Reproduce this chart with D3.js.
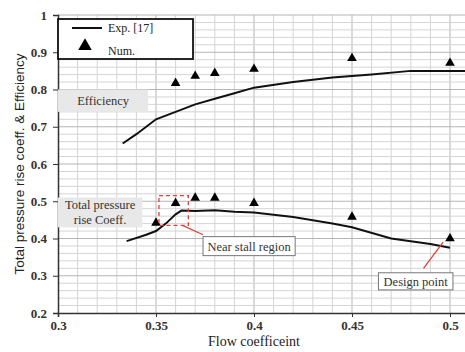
<!DOCTYPE html>
<html>
<head>
<meta charset="utf-8">
<script src="https://cdn.jsdelivr.net/npm/d3@7"></script>
<style>
  body { margin: 0; background: #fff; }
  svg { display: block; }
  .tick text { font-family: "Liberation Serif", "DejaVu Serif", serif; font-size: 13px; font-weight: bold; fill: #333; }
</style>
</head>
<body>
<svg id="chart" width="465" height="352"></svg>
<script>
// experimental curves (Exp. [17])
const effExp = [[0.333, 0.655], [0.34, 0.68], [0.35, 0.72], [0.36, 0.74], [0.37, 0.76], [0.38, 0.775],
  [0.39, 0.79], [0.40, 0.805], [0.42, 0.82], [0.44, 0.832], [0.46, 0.84], [0.48, 0.85], [0.51, 0.85]];
const presExp = [[0.335, 0.393], [0.345, 0.41], [0.35, 0.42], [0.355, 0.44], [0.36, 0.465], [0.363, 0.475],
  [0.37, 0.474], [0.38, 0.476], [0.39, 0.472], [0.40, 0.47], [0.42, 0.458], [0.44, 0.44], [0.45, 0.43],
  [0.47, 0.4], [0.49, 0.385], [0.50, 0.375]];

// numerical results (Num.)
const numFlow = [0.35, 0.36, 0.37, 0.38, 0.40, 0.45, 0.50];
const effNum = [null, 0.817, 0.836, 0.844, 0.855, 0.884, 0.871];
const presNum = [0.442, 0.495, 0.509, 0.509, 0.495, 0.458, 0.40];

const xTicks = [0.3, 0.35, 0.4, 0.45, 0.5];
const yTicks = [0.2, 0.3, 0.4, 0.5, 0.6, 0.7, 0.8, 0.9, 1];

const margin = { top: 15, left: 58, bottom: 39 };
const width = 465, height = 352;

const svg = d3.select('#chart');

const x = d3.scaleLinear().domain([0.3, 0.51]).range([margin.left, margin.left + 0.21 * 1960]);
const y = d3.scaleLinear().domain([0.2, 1]).range([height - margin.bottom, margin.top]);

// grid
const grid = svg.append('g');
d3.range(0.31, 0.515, 0.01).forEach(v => {
  const major = Math.abs(v * 20 - Math.round(v * 20)) < 1e-6;
  grid.append('line')
    .attr('x1', x(v)).attr('x2', x(v))
    .attr('y1', y(0.2)).attr('y2', y(1))
    .attr('stroke', major ? '#b5b5b5' : '#d4d4d4')
    .attr('stroke-width', 1);
});
d3.range(0.22, 1.001, 0.02).forEach(v => {
  const major = Math.abs(v * 10 - Math.round(v * 10)) < 1e-6;
  grid.append('line')
    .attr('x1', x(0.3)).attr('x2', width)
    .attr('y1', y(v)).attr('y2', y(v))
    .attr('stroke', major ? '#b5b5b5' : '#d4d4d4')
    .attr('stroke-width', 1);
});

// axes
svg.append('g')
  .attr('transform', 'translate(0,' + y(0.2) + ')')
  .call(d3.axisBottom(x).tickValues(xTicks).tickSize(4).tickPadding(4).tickFormat(d3.format('')))
  .call(g => g.select('.domain').attr('stroke', '#333').attr('stroke-width', 1.5))
  .call(g => g.selectAll('.tick line').attr('stroke', '#333'));

svg.append('g')
  .attr('transform', 'translate(' + x(0.3) + ',0)')
  .call(d3.axisLeft(y).tickValues(yTicks).tickSize(5).tickPadding(6).tickFormat(d3.format('')))
  .call(g => g.select('.domain').attr('stroke', '#333').attr('stroke-width', 1.5))
  .call(g => g.selectAll('.tick line').attr('stroke', '#333'));

// labels
svg.append('text')
  .attr('x', x(0.4)).attr('y', 346)
  .attr('text-anchor', 'middle')
  .style('font-family', '"Liberation Serif", "DejaVu Serif", serif')
  .style('font-size', '14px')
  .attr('fill', '#222')
  .text('Flow coefficeint');

svg.append('text')
  .attr('transform', 'translate(24,' + y(0.6) + ') rotate(-90)')
  .attr('text-anchor', 'middle')
  .style('font-family', '"Liberation Sans", Arial, sans-serif')
  .style('font-size', '13.5px')
  .attr('fill', '#222')
  .text('Total pressure rise coeff. & Efficiency');

// curves
const line = d3.line().x(d => x(d[0])).y(d => y(d[1]));
[effExp, presExp].forEach(data => {
  svg.append('path')
    .datum(data)
    .attr('d', line)
    .attr('fill', 'none')
    .attr('stroke', '#111')
    .attr('stroke-width', 2);
});

// triangles
const tri = d3.symbol().type(d3.symbolTriangle).size(40);
[effNum, presNum].forEach(vals => {
  svg.append('g').selectAll('path')
    .data(numFlow.map((f, i) => [f, vals[i]]).filter(d => d[1] != null))
    .join('path')
    .attr('d', tri)
    .attr('transform', d => 'translate(' + x(d[0]) + ',' + y(d[1]) + ')')
    .attr('fill', '#000');
});

// annotations
const serif = '"Liberation Serif", "DejaVu Serif", serif';

function grayLabel(x0, x1, y0, y1, lines) {
  svg.append('rect')
    .attr('x', x(x0)).attr('y', y(y0))
    .attr('width', x(x1) - x(x0)).attr('height', y(y1) - y(y0))
    .attr('fill', '#e8e8e8');
  const cx = (x(x0) + x(x1)) / 2, cy = (y(y0) + y(y1)) / 2;
  lines.forEach((t, i) => {
    svg.append('text')
      .attr('x', cx).attr('y', cy + (i - (lines.length - 1) / 2) * 15 + 4.5)
      .attr('text-anchor', 'middle')
      .style('font-family', serif).style('font-size', '12.5px')
      .attr('fill', '#333')
      .text(t);
  });
}
grayLabel(0.3, 0.346, 0.8, 0.74, ['Efficiency']);
grayLabel(0.3, 0.343, 0.51, 0.43, ['Total pressure', 'rise Coeff.']);

function boxLabel(x0, x1, y0, y1, t) {
  svg.append('rect')
    .attr('x', x(x0)).attr('y', y(y0))
    .attr('width', x(x1) - x(x0)).attr('height', y(y1) - y(y0))
    .attr('fill', '#fff').attr('stroke', '#777').attr('stroke-width', 1);
  svg.append('text')
    .attr('x', (x(x0) + x(x1)) / 2).attr('y', (y(y0) + y(y1)) / 2 + 4.5)
    .attr('text-anchor', 'middle')
    .style('font-family', serif).style('font-size', '12.5px')
    .attr('fill', '#333')
    .text(t);
}

// near stall
svg.append('rect')
  .attr('x', x(0.3515)).attr('y', y(0.515))
  .attr('width', x(0.3665) - x(0.3515)).attr('height', y(0.435) - y(0.515))
  .attr('fill', 'none').attr('stroke', '#e0413c').attr('stroke-width', 1.3)
  .attr('stroke-dasharray', '4,3');
svg.append('line')
  .attr('x1', x(0.3635)).attr('y1', y(0.435))
  .attr('x2', x(0.374)).attr('y2', y(0.41))
  .attr('stroke', '#e0413c').attr('stroke-width', 1.3);
boxLabel(0.374, 0.421, 0.405, 0.354, 'Near stall region');

// design point
svg.append('line')
  .attr('x1', x(0.4865)).attr('y1', y(0.32))
  .attr('x2', x(0.4965)).attr('y2', y(0.39))
  .attr('stroke', '#e0413c').attr('stroke-width', 1.3);
boxLabel(0.4635, 0.5015, 0.308, 0.262, 'Design point');

// legend
const lg = svg.append('g');
lg.append('rect')
  .attr('x', x(0.3)).attr('y', 19)
  .attr('width', 135).attr('height', 40)
  .attr('fill', '#fff').attr('stroke', '#111').attr('stroke-width', 1.8);
lg.append('line')
  .attr('x1', 72).attr('x2', 102).attr('y1', 28).attr('y2', 28)
  .attr('stroke', '#111').attr('stroke-width', 2);
lg.append('text')
  .attr('x', 108).attr('y', 32)
  .style('font-family', serif).style('font-size', '12px').attr('fill', '#222')
  .text('Exp. [17]');
lg.append('path')
  .attr('d', d3.symbol().type(d3.symbolTriangle).size(80))
  .attr('transform', 'translate(85,46)');
lg.append('text')
  .attr('x', 108).attr('y', 55)
  .style('font-family', serif).style('font-size', '12px').attr('fill', '#222')
  .text('Num.');
</script>
</body>
</html>
